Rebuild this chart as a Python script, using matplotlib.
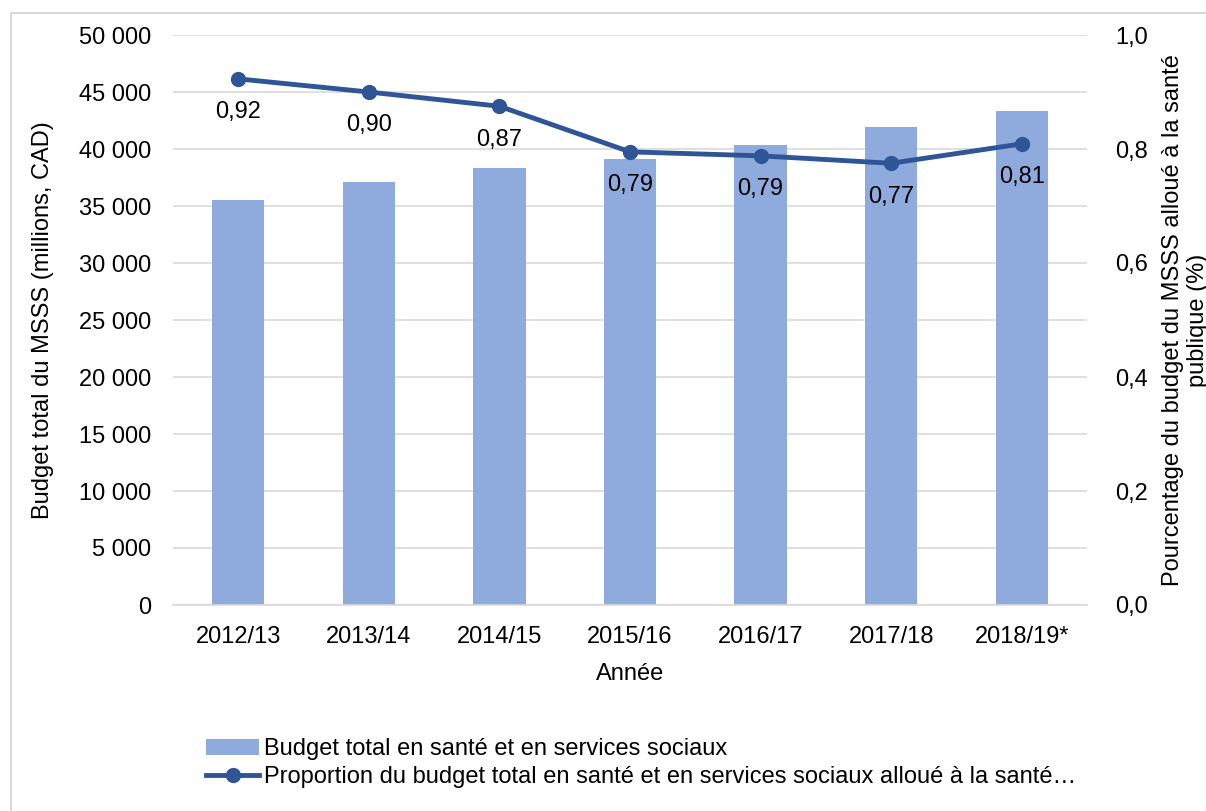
import matplotlib.pyplot as plt
import matplotlib.patches as mpatches
import numpy as np

plt.rcParams['font.family'] = ['Liberation Sans', 'DejaVu Sans']

annees = ['2012/13', '2013/14', '2014/15', '2015/16', '2016/17', '2017/18', '2018/19*']
budget = [35500, 37100, 38300, 39100, 40350, 41900, 43300]
proportion = [0.92, 0.90, 0.87, 0.79, 0.79, 0.77, 0.81]
proportion_pos = [0.923, 0.900, 0.875, 0.795, 0.788, 0.775, 0.809]

bar_color = '#8FAADC'
line_color = '#2F5597'
fs = 17

fig = plt.figure(figsize=(12.06, 8.11), dpi=100)
ax = fig.add_axes([173 / 1206, 1 - 605 / 811, (1087 - 173) / 1206, (605 - 35) / 811])
ax2 = ax.twinx()

x = np.arange(len(annees))
ax.bar(x, budget, width=0.4, color=bar_color, zorder=2,
       label='Budget total en santé et en services sociaux')
ax.set_ylim(0, 50000)
ax.set_yticks(np.arange(0, 50001, 5000))
ax.set_yticklabels([f'{v:,}'.replace(',', ' ') for v in range(0, 50001, 5000)])
ax.set_xlim(-0.5, len(annees) - 0.5)
ax.set_xticks(x)
ax.set_xticklabels(annees)
ax.grid(axis='y', color='#D9D9D9', linewidth=1.2, zorder=0)
ax.set_axisbelow(True)
for s in ['top', 'right', 'left']:
    ax.spines[s].set_visible(False)
ax.spines['bottom'].set_color('#D9D9D9')
ax.spines['bottom'].set_linewidth(1.2)
ax.tick_params(axis='y', length=0, labelsize=fs, pad=16)
ax.tick_params(axis='x', length=0, labelsize=fs, pad=15)
ax.set_ylabel('Budget total du MSSS (millions, CAD)', fontsize=fs)
ax.yaxis.set_label_coords((54 - 173) / 914, 0.5)
ax.set_xlabel('Année', fontsize=fs, labelpad=11)

ax2.plot(x, proportion_pos, color=line_color, linewidth=3.5, marker='o', markersize=10,
         zorder=3, label='Proportion du budget total en santé et en services sociaux alloué à la santé…')
for xi, yi, v in zip(x, proportion_pos, proportion):
    ax2.annotate(f'{v:.2f}'.replace('.', ','), (xi, yi), xytext=(0, -24),
                 textcoords='offset points', ha='center', va='center', fontsize=fs)
ax2.set_ylim(0, 1.0)
ax2.set_yticks(np.arange(0, 1.01, 0.2))
ax2.set_yticklabels([f'{v:.1f}'.replace('.', ',') for v in np.arange(0, 1.01, 0.2)])
for s in ['top', 'right', 'left', 'bottom']:
    ax2.spines[s].set_visible(False)
ax2.tick_params(axis='y', length=0, labelsize=fs, pad=20)
ax2.set_ylabel('Pourcentage du budget du MSSS alloué à la santé\npublique (%)', fontsize=fs)
ax2.yaxis.set_label_coords((1162 - 173) / 914, 0.5)

h1, l1 = ax.get_legend_handles_labels()
h2, l2 = ax2.get_legend_handles_labels()
fig.legend(h1 + h2, l1 + l2, loc='upper left', bbox_to_anchor=(185 / 1206, 1 - 717 / 811),
           frameon=False, fontsize=fs, handlelength=2.25, handletextpad=0.2, labelspacing=0.25)

fig.patches.append(mpatches.Rectangle((11 / 1206, -0.1), 1.2, 1 - 13 / 811 + 0.1,
                                      transform=fig.transFigure, fill=False,
                                      edgecolor='#D9D9D9', linewidth=1.5))

fig.savefig('out.png', dpi=100)
